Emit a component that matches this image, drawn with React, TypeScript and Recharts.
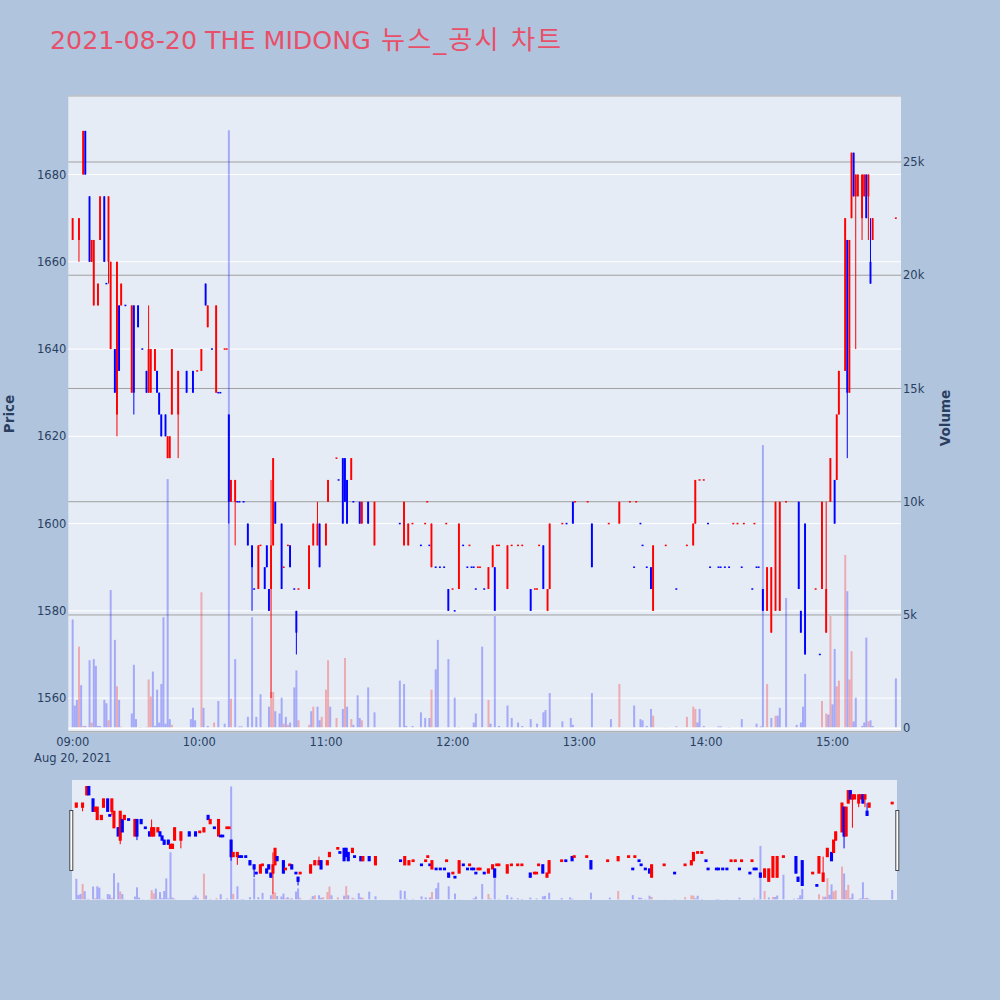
import React from "react";
import { ComposedChart, Bar, XAxis, YAxis, CartesianGrid, ReferenceLine } from "recharts";

const TITLE_LATIN = "2021-08-20 THE MIDONG";
const TITLE_KOREAN = " 뉴스_공시 차트";
const DATE_LABEL = "Aug 20, 2021";

// candles: minutes after 09:00
const cMin = [
  0, 3, 5, 6, 8, 9, 10, 12, 13, 15, 16, 17,
  18, 20, 21, 22, 23, 25, 28, 29, 31, 33, 35, 36, 37, 39,
  40, 41, 42, 44, 45, 46, 47, 50, 54, 57, 59, 61, 63, 64, 66, 68, 69, 70, 72, 73,
  74, 75, 77, 78, 79, 81, 83, 85, 86, 88, 89, 91, 92, 93, 94, 95, 96, 99, 100, 102, 103, 105, 106, 107,
  112, 114, 116, 117, 120, 121, 125, 126, 128, 129, 130, 132, 133, 136, 137, 140, 143,
  155, 157, 159, 161, 165, 167, 168, 169, 170, 172, 174, 176, 177, 178, 180, 181, 183, 185, 187, 188, 189, 190, 191, 192, 193, 195, 197, 199, 200, 201, 202,
  206, 208, 211, 213, 217, 219, 220, 221, 223, 225, 226, 232, 234, 237, 238, 244, 246, 254, 259, 264, 266, 267, 269, 270, 272, 274, 275,
  281, 286, 291, 294, 295, 297, 299, 301, 302, 306, 307, 309, 311, 313, 315, 317, 318, 322, 323, 324, 325,
  327, 329, 331, 333, 335, 338, 344, 345, 347, 352, 354, 355, 357, 359, 361, 362, 363,
  366, 367, 368, 369, 370, 371, 372, 374, 375, 376, 377, 378, 379, 390,
];
const cOpen = [
  1665, 1665, 1680, 1690, 1675, 1660, 1650, 1650, 1665, 1675, 1655, 1660,
  1640, 1640, 1625, 1650, 1650, 1650, 1630, 1650, 1650, 1640, 1635, 1630, 1630, 1635,
  1635, 1630, 1625, 1625, 1615, 1615, 1625, 1625, 1635, 1635, 1635, 1635, 1655, 1645, 1640, 1630, 1630, 1630, 1640, 1640,
  1625, 1605, 1605, 1605, 1605, 1605, 1600, 1595, 1585, 1585, 1595, 1590, 1595, 1585, 1585, 1595, 1605, 1600, 1590, 1595, 1595, 1585, 1580, 1585,
  1585, 1595, 1595, 1600, 1595, 1605, 1615, 1610, 1615, 1615, 1610, 1610, 1605, 1605, 1600, 1605, 1595,
  1600, 1595, 1595, 1600, 1595, 1600, 1605, 1595, 1590, 1590, 1590, 1590, 1600, 1585, 1585, 1580, 1585, 1595, 1590, 1595, 1590, 1590, 1585, 1590, 1590, 1585, 1585, 1590, 1590, 1595, 1595,
  1585, 1595, 1595, 1595, 1585, 1585, 1585, 1595, 1595, 1580, 1585, 1600, 1600, 1605, 1605, 1605, 1600, 1600, 1600, 1605, 1590, 1605, 1600, 1595, 1590, 1590, 1580,
  1595, 1585, 1595, 1595, 1600, 1610, 1610, 1600, 1590, 1590, 1590, 1590, 1590, 1600, 1600, 1590, 1600, 1585, 1600, 1590, 1590,
  1585, 1580, 1575, 1580, 1580, 1605, 1605, 1580, 1600, 1585, 1570, 1585, 1575, 1605, 1610, 1610, 1625,
  1635, 1665, 1630, 1670, 1685, 1675, 1675, 1670, 1675, 1680, 1675, 1660, 1665, 1670,
];
const cHigh = [
  1670, 1670, 1690, 1690, 1675, 1665, 1665, 1655, 1675, 1675, 1655, 1675,
  1660, 1640, 1660, 1650, 1655, 1650, 1650, 1650, 1650, 1640, 1635, 1650, 1640, 1640,
  1635, 1630, 1625, 1625, 1620, 1620, 1640, 1635, 1635, 1635, 1635, 1640, 1655, 1650, 1640, 1650, 1630, 1630, 1640, 1640,
  1625, 1610, 1610, 1605, 1605, 1605, 1600, 1595, 1585, 1595, 1595, 1590, 1595, 1585, 1610, 1615, 1605, 1600, 1590, 1595, 1595, 1585, 1580, 1585,
  1595, 1600, 1605, 1600, 1600, 1610, 1615, 1610, 1615, 1615, 1610, 1615, 1605, 1605, 1605, 1605, 1605,
  1600, 1605, 1600, 1600, 1595, 1600, 1605, 1595, 1600, 1590, 1590, 1590, 1600, 1585, 1585, 1580, 1600, 1595, 1590, 1595, 1590, 1590, 1585, 1590, 1590, 1585, 1590, 1595, 1590, 1595, 1595,
  1595, 1595, 1595, 1595, 1585, 1585, 1585, 1595, 1595, 1585, 1600, 1600, 1600, 1605, 1605, 1605, 1600, 1600, 1605, 1605, 1590, 1605, 1600, 1595, 1590, 1590, 1595,
  1595, 1585, 1595, 1600, 1610, 1610, 1610, 1600, 1590, 1590, 1590, 1590, 1590, 1600, 1600, 1590, 1600, 1585, 1600, 1590, 1590,
  1585, 1590, 1590, 1605, 1605, 1605, 1605, 1580, 1600, 1585, 1570, 1605, 1605, 1615, 1610, 1625, 1635,
  1670, 1665, 1665, 1685, 1685, 1680, 1680, 1680, 1680, 1680, 1680, 1670, 1670, 1670,
];
const cLow = [
  1665, 1660, 1680, 1680, 1660, 1660, 1650, 1650, 1665, 1660, 1655, 1655,
  1640, 1630, 1620, 1635, 1650, 1650, 1630, 1625, 1645, 1640, 1630, 1630, 1630, 1635,
  1630, 1625, 1620, 1620, 1615, 1615, 1625, 1615, 1630, 1630, 1635, 1635, 1650, 1645, 1640, 1630, 1630, 1630, 1640, 1640,
  1600, 1605, 1595, 1605, 1605, 1605, 1595, 1580, 1585, 1585, 1595, 1585, 1590, 1580, 1560, 1595, 1600, 1585, 1590, 1595, 1590, 1585, 1570, 1585,
  1585, 1595, 1595, 1590, 1595, 1605, 1615, 1610, 1600, 1605, 1600, 1610, 1605, 1600, 1600, 1600, 1595,
  1600, 1595, 1595, 1600, 1595, 1600, 1605, 1595, 1590, 1590, 1590, 1590, 1600, 1580, 1585, 1580, 1585, 1595, 1590, 1595, 1590, 1590, 1585, 1590, 1590, 1585, 1585, 1590, 1580, 1595, 1595,
  1585, 1595, 1595, 1595, 1580, 1585, 1585, 1595, 1585, 1580, 1585, 1600, 1600, 1600, 1605, 1605, 1590, 1600, 1600, 1605, 1590, 1605, 1600, 1595, 1590, 1585, 1580,
  1595, 1585, 1595, 1595, 1600, 1610, 1610, 1600, 1590, 1590, 1590, 1590, 1590, 1600, 1600, 1590, 1600, 1585, 1600, 1590, 1590,
  1580, 1580, 1575, 1580, 1580, 1605, 1585, 1575, 1570, 1585, 1570, 1585, 1575, 1605, 1600, 1610, 1625,
  1635, 1615, 1630, 1670, 1675, 1640, 1675, 1665, 1675, 1670, 1665, 1655, 1665, 1670,
];
const cClose = [
  1670, 1670, 1690, 1680, 1660, 1665, 1665, 1655, 1675, 1660, 1655, 1675,
  1660, 1630, 1660, 1635, 1655, 1650, 1650, 1630, 1645, 1640, 1630, 1640, 1640, 1640,
  1630, 1625, 1620, 1620, 1620, 1620, 1640, 1635, 1630, 1630, 1635, 1640, 1650, 1650, 1640, 1650, 1630, 1630, 1640, 1640,
  1605, 1610, 1610, 1605, 1605, 1605, 1595, 1590, 1585, 1595, 1595, 1585, 1590, 1580, 1595, 1615, 1600, 1585, 1590, 1595, 1590, 1585, 1575, 1585,
  1595, 1600, 1600, 1590, 1600, 1610, 1615, 1610, 1600, 1605, 1600, 1615, 1605, 1600, 1605, 1600, 1605,
  1600, 1605, 1600, 1600, 1595, 1600, 1605, 1595, 1600, 1590, 1590, 1590, 1600, 1580, 1585, 1580, 1600, 1595, 1590, 1595, 1590, 1590, 1585, 1590, 1590, 1585, 1590, 1595, 1580, 1595, 1595,
  1595, 1595, 1595, 1595, 1580, 1585, 1585, 1595, 1585, 1585, 1600, 1600, 1600, 1600, 1605, 1605, 1590, 1600, 1605, 1605, 1590, 1605, 1600, 1595, 1590, 1585, 1595,
  1595, 1585, 1595, 1600, 1610, 1610, 1610, 1600, 1590, 1590, 1590, 1590, 1590, 1600, 1600, 1590, 1600, 1585, 1600, 1590, 1590,
  1580, 1590, 1590, 1605, 1605, 1605, 1585, 1575, 1570, 1585, 1570, 1605, 1585, 1615, 1600, 1625, 1635,
  1670, 1630, 1665, 1685, 1675, 1680, 1680, 1680, 1680, 1670, 1680, 1655, 1670, 1670,
];
// 1 = red (rising), 0 = blue (falling)
const cUp = [
  1, 1, 1, 0, 0, 1, 1, 1, 1, 0, 0, 1,
  1, 0, 1, 0, 1, 0, 1, 0, 0, 0, 0, 1, 1, 1,
  0, 0, 0, 0, 1, 1, 1, 1, 0, 0, 1, 1, 0, 1, 0, 1, 0, 0, 1, 1,
  0, 1, 1, 0, 0, 0, 0, 0, 0, 1, 1, 0, 0, 0, 1, 1, 0, 0, 1, 1, 0, 0, 0, 1,
  1, 1, 1, 0, 1, 1, 1, 0, 0, 0, 0, 1, 0, 0, 1, 0, 1,
  0, 1, 1, 1, 0, 1, 1, 0, 1, 0, 0, 0, 1, 0, 1, 0, 1, 0, 0, 1, 0, 0, 0, 1, 1, 0, 1, 1, 0, 1, 1,
  1, 1, 1, 1, 0, 1, 1, 1, 0, 1, 1, 1, 0, 0, 1, 1, 0, 1, 1, 1, 0, 1, 0, 0, 0, 0, 1,
  1, 0, 1, 1, 1, 1, 1, 0, 0, 0, 0, 0, 0, 1, 1, 0, 1, 0, 1, 0, 0,
  0, 1, 1, 1, 1, 1, 0, 0, 0, 1, 0, 1, 1, 1, 0, 1, 1,
  1, 0, 1, 1, 0, 1, 1, 1, 1, 0, 1, 0, 1, 1,
];

// volume
const vMin = [
  0, 1, 2, 3, 4, 5, 6, 8, 9, 10, 11, 12, 13, 15, 16, 17, 18, 20, 21, 22, 23,
  28, 29, 30, 32, 35, 36, 37, 38, 39, 40, 41, 42, 43, 44, 45, 46, 47, 56, 57, 58,
  61, 62, 64, 67, 69, 72, 74, 75, 77, 79, 80, 83, 85, 87, 89, 93, 94, 95, 96, 98, 99, 100, 101, 102, 103, 105, 106, 107,
  112, 113, 114, 116, 117, 118, 120, 121, 122, 125, 128, 129, 130, 132, 133, 135, 136, 137, 140, 143,
  155, 157, 158, 161, 165, 167, 169, 170, 172, 173, 178, 181, 183, 190, 191, 194, 197, 198, 200, 202,
  206, 208, 211, 213, 217, 220, 223, 224, 226, 232, 236, 237, 246, 255, 259, 266, 269, 270, 272, 274, 275, 281, 286, 291, 294, 295, 296, 297, 299, 306, 307, 311, 317, 324, 326,
  327, 329, 331, 333, 334, 335, 338, 343, 345, 346, 347, 355, 357, 358, 359, 360, 361, 362, 363, 366, 367, 368, 369, 370, 371, 374, 375, 376, 377, 378, 379, 390,
];
const vVol = [
  4800, 1000, 1250, 3600, 1900, 100, 100, 3000, 250, 3050, 2750, 100, 100, 1250, 1100, 350, 6100, 3900, 1850, 1250, 70,
  650, 2800, 400, 50, 50, 2150, 1400, 2500, 100, 1700, 250, 1950, 4900, 200, 11000, 400, 150, 400, 900, 350,
  6000, 900, 100, 250, 1200, 200, 26400, 1300, 3050, 80, 80, 500, 4900, 500, 1500, 950, 1600, 1600, 750, 650, 1350, 200, 500, 150, 250, 1800, 2550, 350,
  150, 750, 950, 950, 350, 500, 1700, 3000, 950, 450, 850, 3100, 950, 400, 150, 1450, 450, 350, 1800, 700,
  2100, 1950, 100, 100, 700, 450, 450, 1700, 2600, 3900, 3050, 1350, 50, 250, 650, 3600, 1250, 200, 4950, 100,
  1000, 450, 250, 100, 400, 200, 700, 800, 1550, 300, 450, 150, 1550, 400, 1950, 1000, 400, 350, 100, 850, 550, 50, 80, 500, 950, 850, 250, 850, 100, 80, 80, 50, 400, 200, 80,
  12500, 1950, 450, 550, 550, 900, 5750, 150, 250, 950, 2400, 1200, 650, 600, 4950, 1050, 3500, 1850, 2100, 7650, 6050, 2150, 3400, 300, 1350, 100, 250, 4000, 300, 350, 100, 2200,
];
const vUp = [
  0, 0, 0, 1, 0, 1, 0, 0, 1, 0, 0, 0, 0, 0, 0, 1, 0, 0, 1, 0, 1,
  0, 0, 0, 0, 0, 1, 1, 0, 0, 0, 0, 0, 0, 0, 0, 0, 1, 0, 0, 0,
  1, 0, 0, 1, 0, 0, 0, 1, 0, 0, 0, 0, 0, 0, 0, 0, 1, 1, 0, 0, 0, 1, 0, 1, 0, 0, 0, 1,
  1, 0, 1, 0, 0, 1, 1, 1, 0, 1, 0, 1, 0, 1, 0, 0, 0, 1, 0, 0,
  0, 0, 0, 0, 0, 0, 0, 1, 0, 0, 0, 0, 0, 0, 0, 0, 1, 0, 0, 0,
  0, 0, 0, 0, 0, 0, 0, 0, 0, 0, 0, 0, 0, 0, 1, 0, 0, 0, 0, 0, 1, 1, 0, 1, 1, 1, 0, 0, 0, 0, 0, 0, 0, 0, 0,
  0, 1, 0, 1, 0, 0, 0, 0, 0, 0, 0, 1, 1, 0, 1, 0, 0, 1, 1, 1, 0, 1, 1, 0, 0, 0, 0, 0, 1, 0, 0, 0,
];

const timeTicks = [0, 60, 120, 180, 240, 300, 360];
const priceTicks = [1560, 1580, 1600, 1620, 1640, 1660, 1680];
const volTicks = [0, 5000, 10000, 15000, 20000, 25000];

const X_DOMAIN = [-2.1, 392.4];
const PRICE_DOMAIN = [1552.3, 1698];
const VOL_DOMAIN = [-155, 27914];

const FONT = "'DejaVu Sans', Verdana, 'Noto Sans CJK KR', sans-serif";
const INK = "#2a3f5f";
const UP = "#ff0000";
const DOWN = "#0000ff";
const VOL_UP = "rgba(255,0,0,0.28)";
const VOL_DOWN = "rgba(0,0,255,0.28)";

type Row = { t: number; o?: number; h?: number; l?: number; c?: number; up?: number; v?: number; vu?: number };

function buildRows(): Row[] {
  const map = new Map<number, Row>();
  const get = (t: number) => {
    let r = map.get(t);
    if (!r) {
      r = { t };
      map.set(t, r);
    }
    return r;
  };
  cMin.forEach((t, i) => Object.assign(get(t), { o: cOpen[i], h: cHigh[i], l: cLow[i], c: cClose[i], up: cUp[i] }));
  vMin.forEach((t, i) => Object.assign(get(t), { v: vVol[i], vu: vUp[i] }));
  return [...map.values()].sort((a, b) => a.t - b.t);
}

const rows = buildRows();

// outline = extra stroke round the body (the range slider draws fatter boxes)
function makeCandleShape(outline: number) {
  return (props: any) => {
    const { x, y, width, height, payload } = props;
    if (!payload || payload.o == null || !Number.isFinite(y)) return <g />;
    const color = payload.up ? UP : DOWN;
    const top = Math.min(y, y + height);
    const span = Math.abs(height);
    const cx = x + width / 2;
    const sw = outline > 0 ? outline : undefined;
    if (payload.h === payload.l || span < 0.5) {
      return <rect x={x} y={top - 0.75} width={width} height={1.5} fill={color} stroke={sw ? color : "none"} strokeWidth={sw} />;
    }
    const k = span / (payload.h - payload.l);
    const yo = top + (payload.h - payload.o) * k;
    const yc = top + (payload.h - payload.c) * k;
    const bTop = Math.min(yo, yc);
    const bH = Math.max(Math.abs(yo - yc), 1.5);
    return (
      <g>
        <line x1={cx} x2={cx} y1={top} y2={top + span} stroke={color} strokeWidth={1} />
        <rect x={x} y={bTop} width={width} height={bH} fill={color} stroke={sw ? color : "none"} strokeWidth={sw} />
      </g>
    );
  };
}

const mainCandle = makeCandleShape(0);
const sliderCandle = makeCandleShape(1.2);

function volShape(props: any) {
  const { x, y, width, height, payload } = props;
  if (!payload || payload.v == null || !Number.isFinite(y)) return <g />;
  return (
    <rect
      x={x}
      y={Math.min(y, y + height)}
      width={width}
      height={Math.abs(height)}
      fill={payload.vu ? VOL_UP : VOL_DOWN}
    />
  );
}

function TimeTick(props: any) {
  const { x, y, payload } = props;
  const m = payload.value as number;
  const label = `${String(9 + Math.floor(m / 60)).padStart(2, "0")}:00`;
  return (
    <g>
      <text x={x} y={y + 14} textAnchor="middle" fontSize={11.5} fill={INK} fontFamily={FONT}>
        {label}
      </text>
      {m === 0 && (
        <text x={x} y={y + 30} textAnchor="middle" fontSize={11.5} fill={INK} fontFamily={FONT}>
          {DATE_LABEL}
        </text>
      )}
    </g>
  );
}

const volLabel = (v: number) => (v === 0 ? "0" : `${v / 1000}k`);

function MainChart() {
  return (
    <ComposedChart
      width={1000}
      height={780}
      data={rows}
      margin={{ top: 96, right: 49, bottom: 18.3, left: 8.3 }}
    >
      <XAxis
        xAxisId="x"
        dataKey="t"
        type="number"
        domain={X_DOMAIN}
        allowDataOverflow
        ticks={timeTicks}
        interval={0}
        height={30}
        axisLine={false}
        tickLine={false}
        tickSize={0}
        tickMargin={0}
        tick={(p: any) => <TimeTick {...p} />}
      />
      <XAxis xAxisId="x2" dataKey="t" type="number" domain={X_DOMAIN} allowDataOverflow hide />
      <YAxis
        yAxisId="p"
        orientation="left"
        type="number"
        domain={PRICE_DOMAIN}
        allowDataOverflow
        ticks={priceTicks}
        interval={0}
        width={60}
        axisLine={false}
        tickLine={false}
        tickSize={0}
        tickMargin={2}
        tick={{ fill: INK, fontSize: 11.5, fontFamily: FONT }}
      />
      <YAxis
        yAxisId="v"
        orientation="right"
        type="number"
        domain={VOL_DOMAIN}
        allowDataOverflow
        ticks={volTicks}
        interval={0}
        width={50}
        axisLine={false}
        tickLine={false}
        tickSize={0}
        tickMargin={2}
        tickFormatter={volLabel}
        tick={{ fill: INK, fontSize: 11.5, fontFamily: FONT }}
      />
      <CartesianGrid xAxisId="x" yAxisId="p" vertical={false} stroke="#ffffff" strokeWidth={1} fill="#e5ecf6" />
      <CartesianGrid xAxisId="x" yAxisId="v" vertical={false} stroke="#a0a0a0" strokeWidth={1} />
      <ReferenceLine xAxisId="x" yAxisId="v" y={0} stroke="#ffffff" strokeWidth={2} />
      <Bar
        xAxisId="x"
        yAxisId="v"
        dataKey={(d: Row) => (d.v == null ? null : d.v)}
        barSize={2}
        shape={volShape}
        isAnimationActive={false}
      />
      <Bar
        xAxisId="x2"
        yAxisId="p"
        dataKey={(d: Row) => (d.o == null ? null : [d.l, d.h])}
        barSize={3.4}
        shape={mainCandle}
        isAnimationActive={false}
      />
    </ComposedChart>
  );
}

function SliderChart() {
  return (
    <ComposedChart width={825.3} height={120} data={rows} margin={{ top: 0, right: 0, bottom: 0, left: 0 }}>
      <XAxis xAxisId="x" dataKey="t" type="number" domain={X_DOMAIN} allowDataOverflow hide />
      <XAxis xAxisId="x2" dataKey="t" type="number" domain={X_DOMAIN} allowDataOverflow hide />
      <YAxis yAxisId="p" type="number" domain={PRICE_DOMAIN} allowDataOverflow hide />
      <YAxis yAxisId="v" type="number" domain={VOL_DOMAIN} allowDataOverflow hide />
      <Bar
        xAxisId="x"
        yAxisId="v"
        dataKey={(d: Row) => (d.v == null ? null : d.v)}
        barSize={2}
        shape={volShape}
        isAnimationActive={false}
      />
      <Bar
        xAxisId="x2"
        yAxisId="p"
        dataKey={(d: Row) => (d.o == null ? null : [d.l, d.h])}
        barSize={3}
        shape={sliderCandle}
        isAnimationActive={false}
      />
    </ComposedChart>
  );
}

export default function App() {
  return (
    <div
      style={{
        position: "absolute",
        left: 0,
        top: 0,
        width: 1000,
        height: 1000,
        background: "#b0c4de",
        fontFamily: FONT,
        overflow: "hidden",
      }}
    >
      <div style={{ position: "absolute", left: 0, top: 0 }}>
        <MainChart />
      </div>
      <div style={{ position: "absolute", left: 71.7, top: 780, width: 825.3, height: 120, background: "#e5ecf6" }}>
        <SliderChart />
      </div>
      <svg width={1000} height={1000} style={{ position: "absolute", left: 0, top: 0, pointerEvents: "none" }}>
        <text x={50} y={49.3} fontSize={25.3} fill="#e8506a" fontFamily={FONT}>
          {TITLE_LATIN}
          <tspan fontSize={26.2} letterSpacing={2}>{TITLE_KOREAN}</tspan>
        </text>
        <text
          transform="translate(14,414) rotate(-90)"
          textAnchor="middle"
          fontSize={13.5}
          fontWeight="bold"
          fill={INK}
          fontFamily={FONT}
        >
          Price
        </text>
        <text
          transform="translate(950,418) rotate(-90)"
          textAnchor="middle"
          fontSize={13.5}
          fontWeight="bold"
          fill={INK}
          fontFamily={FONT}
        >
          Volume
        </text>
        <rect x={69.8} y={810.5} width={3} height={60} fill="#ffffff" stroke="#444444" strokeWidth={1} />
        <rect x={895.8} y={810.5} width={3} height={60} fill="#ffffff" stroke="#444444" strokeWidth={1} />
      </svg>
    </div>
  );
}
